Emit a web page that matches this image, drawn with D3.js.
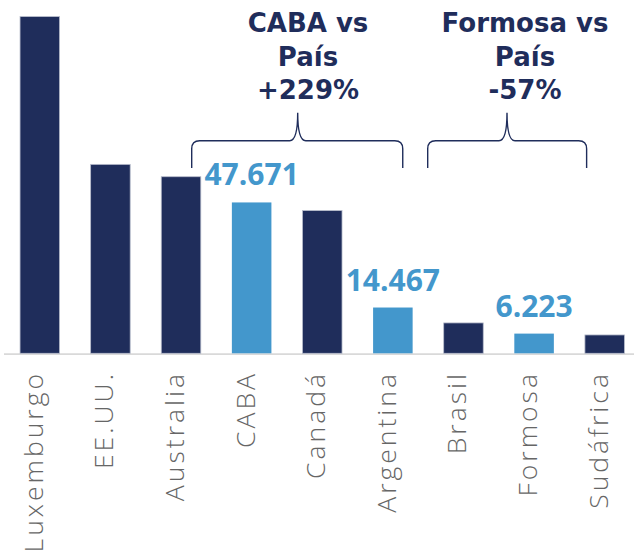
<!DOCTYPE html>
<html>
<head>
<meta charset="utf-8">
<script src="https://cdn.jsdelivr.net/npm/d3@7"></script>
<style>
  html, body { margin: 0; padding: 0; background: #fff; }
  svg { display: block; }
</style>
</head>
<body>
<svg id="chart" width="634" height="556"></svg>
<script>
const categories = ["Luxemburgo", "EE.UU.", "Australia", "CABA", "Canadá", "Argentina", "Brasil", "Formosa", "Sudáfrica"];
const values = [106400, 59700, 55800, 47671, 45100, 14467, 9600, 6223, 5800];
const highlighted = ["CABA", "Argentina", "Formosa"];
const valueLabels = [
  { category: "CABA", text: "47.671" },
  { category: "Argentina", text: "14.467" },
  { category: "Formosa", text: "6.223" }
];
const comparisons = [
  { lines: ["CABA vs", "País", "+229%"] },
  { lines: ["Formosa vs", "País", "-57%"] }
];

const navy = "#1f2d5b";
const blue = "#4397cc";

const svg = d3.select("#chart");
const baseY = 353.3;

const x = d3.scaleBand()
  .domain(categories)
  .range([4.5, 640])
  .paddingInner(0.44)
  .paddingOuter(0.22);

const y = d3.scaleLinear()
  .domain([0, 110000])
  .range([baseY, baseY - 110000 / 316]);

// axis baseline
svg.append("line")
  .attr("x1", 4).attr("x2", 634)
  .attr("y1", baseY + 0.8).attr("y2", baseY + 0.8)
  .attr("stroke", "#d9d9d9").attr("stroke-width", 1.6);

// bars
svg.selectAll("rect.bar")
  .data(categories)
  .join("rect")
  .attr("class", "bar")
  .attr("x", d => x(d))
  .attr("width", x.bandwidth())
  .attr("y", (d, i) => y(values[i]))
  .attr("height", (d, i) => baseY - y(values[i]))
  .attr("fill", d => highlighted.includes(d) ? blue : navy)
  .attr("stroke", d => highlighted.includes(d) ? "none" : "#b8bdcc")
  .attr("stroke-width", 0.8);

// category labels (rotated)
svg.selectAll("text.cat")
  .data(categories)
  .join("text")
  .attr("class", "cat")
  .attr("transform", d => `translate(${x(d) + x.bandwidth() / 2 + 3},371) rotate(-90)`)
  .attr("text-anchor", "end")
  .attr("font-family", "Open Sans")
  .attr("font-weight", 300)
  .attr("font-size", 26.5)
  .attr("letter-spacing", 3)
  .attr("fill", "#666666")
  .text(d => d);

// value labels
svg.selectAll("text.val")
  .data(valueLabels)
  .join("text")
  .attr("class", "val")
  .attr("x", d => x(d.category) + x.bandwidth() / 2)
  .attr("y", d => y(values[categories.indexOf(d.category)]) - 17)
  .attr("text-anchor", "middle")
  .attr("font-family", "Open Sans")
  .attr("font-weight", 700)
  .attr("font-size", 30)
  .attr("fill", blue)
  .text(d => d.text);

// braces
const braceTop = 112.7, braceMid = 140.7, braceBot = 168;
function bracePath(x0, x1, xt) {
  const r = 8;
  return `M${x0},${braceBot} L${x0},${braceMid + r} Q${x0},${braceMid} ${x0 + r},${braceMid}` +
    ` L${xt - r},${braceMid} Q${xt},${braceMid} ${xt},${braceTop}` +
    ` Q${xt},${braceMid} ${xt + r},${braceMid} L${x1 - r},${braceMid} Q${x1},${braceMid} ${x1},${braceMid + r} L${x1},${braceBot}`;
}
const braceSpecs = [
  { x0: x("Australia") + x.bandwidth() * 0.77, x1: x("Argentina") + x.bandwidth() * 0.75, xt: 297.7, cx: 308 },
  { x0: x("Brasil") - 16, x1: x("Sudáfrica") + 1.7, xt: 507, cx: 525 }
];
braceSpecs.forEach((b, i) => {
  svg.append("path")
    .attr("d", bracePath(b.x0, b.x1, b.xt))
    .attr("fill", "none")
    .attr("stroke", navy)
    .attr("stroke-width", 1.4);
  const t = svg.append("text")
    .attr("text-anchor", "middle")
    .attr("font-family", "DejaVu Sans")
    .attr("font-weight", 700)
    .attr("font-size", 26)
    .attr("fill", navy);
  comparisons[i].lines.forEach((ln, j) => {
    t.append("tspan").attr("x", b.cx).attr("y", 32 + j * 33.5).text(ln);
  });
});
</script>
</body>
</html>
